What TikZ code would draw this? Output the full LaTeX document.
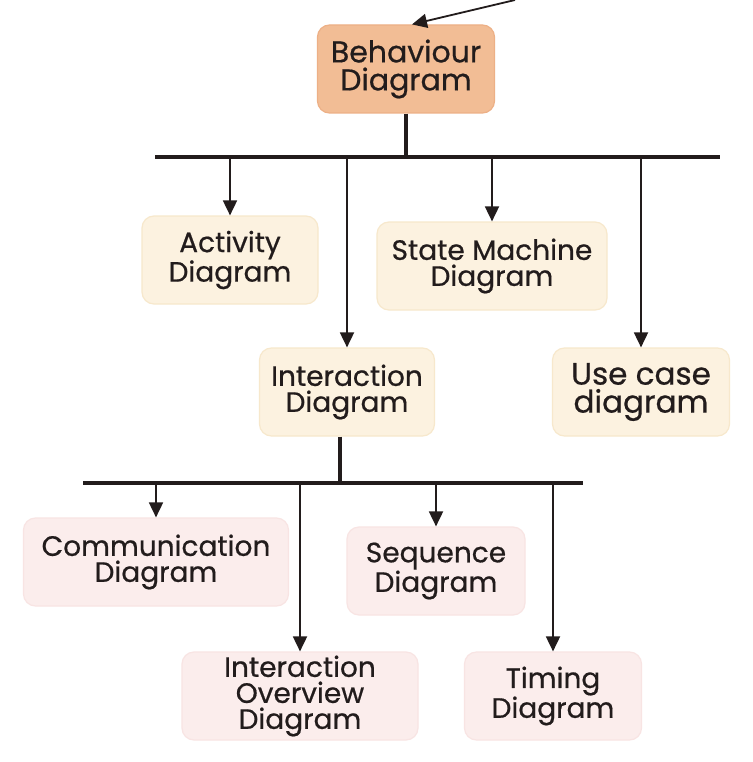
\documentclass[tikz,border=0pt]{standalone}
\usepackage{fontspec}
\setmainfont{Poppins}
\newfontfamily\boxfont{Poppins}[FakeBold=0.6]
\definecolor{InkDark}{HTML}{221C1C}
\definecolor{BehaveFill}{HTML}{F2BD95}
\definecolor{BehaveBorder}{HTML}{EDB086}
\definecolor{KindFill}{HTML}{FCF2E0}
\definecolor{KindBorder}{HTML}{F7E8CC}
\definecolor{SubFill}{HTML}{FBEDEC}
\definecolor{SubBorder}{HTML}{F8E4E3}
\usetikzlibrary{arrows.meta, positioning}

\begin{document}
\begin{tikzpicture}[x=1pt, y=-1pt,
  box/.style={rectangle, rounded corners=12pt, line width=1.2pt,
              align=center, minimum height=88pt, inner sep=0pt,
              font=\boxfont\fontsize{28}{26}\selectfont, text=InkDark},
  behave/.style={box, fill=BehaveFill, draw=BehaveBorder,
                 font=\boxfont\fontsize{30}{28}\selectfont},
  kind/.style={box, fill=KindFill, draw=KindBorder},
  sub/.style={box, fill=SubFill, draw=SubBorder},
  bus/.style={line width=3.5pt, draw=InkDark},
  arr/.style={line width=1.8pt, draw=InkDark,
              -{Triangle[length=15pt, width=14pt]}},
]
\fill[white] (0,0) rectangle (752,762);
\useasboundingbox (0,0) rectangle (752,762);

% root box, fed from outside the picture
\node[behave, minimum width=177pt] (beh) at (406,69) {Behaviour\\Diagram};
\coordinate (src) at (515,0);
\draw[arr] (src) -- ([xshift=6pt]beh.north);

% second row: kinds of behaviour diagram
\node[kind, minimum width=176pt] (act) at (230,260) {Activity\\Diagram};
\node[kind, minimum width=230pt] (state) at (492,266) {State Machine\\Diagram};
\node[kind, minimum width=175pt] (inter) at (347,392) {Interaction\\Diagram};
\node[kind, minimum width=177pt,
      font=\boxfont\fontsize{31}{28}\selectfont] (usec) at (641,392) {Use case\\diagram};

% third row: kinds of interaction diagram
\node[sub, minimum width=265pt] (comm) at (156,562) {Communication\\Diagram};
\node[sub, minimum width=178pt] (seq) at (436,571) {Sequence\\Diagram};
\node[sub, minimum width=236pt] (over) at (300,696) {Interaction\\Overview\\Diagram};
\node[sub, minimum width=177pt] (timing) at (553,696) {Timing\\Diagram};

% bus under the root
\coordinate (busA) at (155,157);
\coordinate (busB) at (720,157);
\draw[bus] (busA) -- (busB);
\draw[bus] (beh.south) -- (beh.south |- busA);
\foreach \n in {act,inter,state,usec}
  \draw[arr] (\n.north |- busA) -- (\n.north);

% bus under the interaction diagram
\coordinate (busC) at (83,483);
\coordinate (busD) at (583,483);
\draw[bus] (busC) -- (busD);
\draw[bus] ([xshift=-7pt]inter.south) -- ([xshift=-7pt]inter.south |- busC);
\foreach \n in {comm,seq,over,timing}
  \draw[arr] (\n.north |- busC) -- (\n.north);
\end{tikzpicture}
\end{document}
